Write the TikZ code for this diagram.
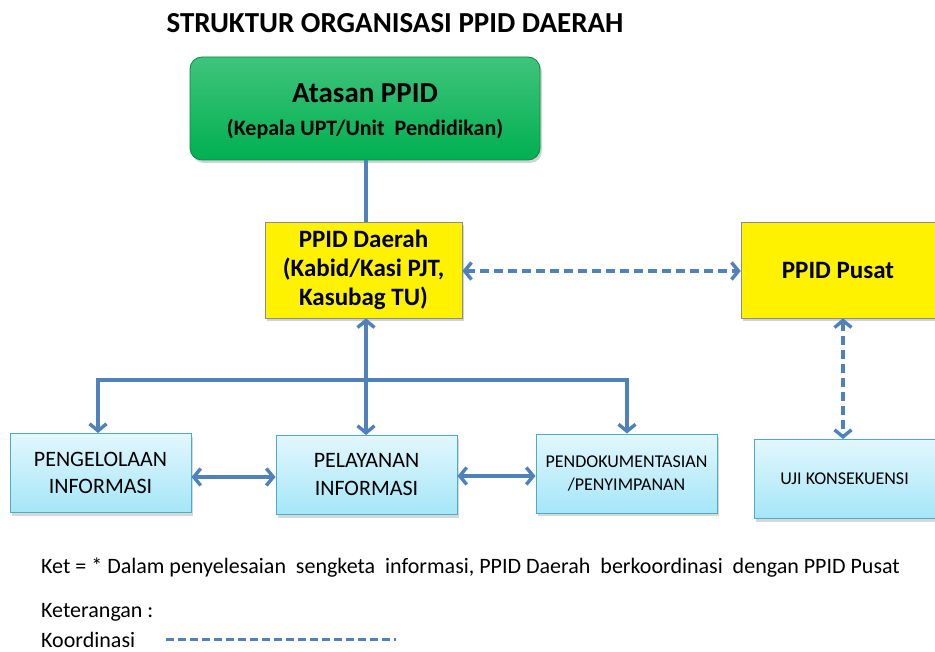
\documentclass[tikz,border=0pt]{standalone}
\usepackage{fontspec}
\setmainfont{Carlito}
\usetikzlibrary{arrows.meta,shadows}
\definecolor{lineblue}{HTML}{4F81BD}
\definecolor{boxgreen}{HTML}{00B050}
\definecolor{cyanedge}{HTML}{4BACC6}
\definecolor{cyantop}{HTML}{E2F7FD}
\definecolor{cyanbot}{HTML}{A5E6F8}
\tikzset{
  x=1pt,y=-1pt,
  greenbox/.style={draw=boxgreen!80!black,line width=0.8pt,rounded corners=12pt,top color=boxgreen!75!white,bottom color=boxgreen,
     drop shadow={shadow xshift=2pt,shadow yshift=-3pt,opacity=0.35},minimum width=350pt,minimum height=103pt,align=center,font=\bfseries},
  yellowbox/.style={draw=black!45,line width=0.6pt,fill=yellow,drop shadow={shadow xshift=2pt,shadow yshift=-3pt,opacity=0.35},
     minimum width=197pt,minimum height=96pt,align=center,font=\bfseries\fontsize{25}{29}\selectfont},
  cyanbox/.style={draw=cyanedge,line width=1pt,top color=cyantop,bottom color=cyanbot,drop shadow={shadow xshift=2pt,shadow yshift=-3pt,opacity=0.3},
     minimum width=181pt,minimum height=79pt,align=center},
  conn/.style={draw=lineblue,line width=3.6pt},
  tipboth/.style={conn,{Straight Barb[length=7pt,width=17pt,line width=3.4pt]}-{Straight Barb[length=7pt,width=17pt,line width=3.4pt]}},
  tipend/.style={conn,-{Straight Barb[length=7pt,width=17pt,line width=3.4pt]}},
  dashline/.style={dash pattern=on 9pt off 5pt},
  note/.style={anchor=base west,font=\fontsize{22}{26}\selectfont,inner sep=0pt},
}
\begin{document}
\begin{tikzpicture}
\useasboundingbox (0,0) rectangle (935,652);
\fill[white] (0,0) rectangle (935,652);

\node[font=\bfseries\fontsize{29}{33}\selectfont] (title) at (395,23) {STRUKTUR ORGANISASI PPID DAERAH};

\node[greenbox] (atasan) at (365,108.5) {};
\node[font=\bfseries\fontsize{29}{33}\selectfont] (atasanA) at (365,93) {Atasan PPID};
\node[font=\bfseries\fontsize{22}{26}\selectfont] (atasanB) at (365,129) {(Kepala UPT/Unit\ \ Pendidikan)};

\node[yellowbox] (daerah) at (363.5,270) {PPID Daerah\\(Kabid/Kasi PJT,\\Kasubag TU)};
\node[yellowbox,minimum width=194pt] (pusat) at (838,270) {PPID Pusat};

\node[cyanbox,font=\fontsize{22}{27}\selectfont] (kelola) at (100.5,473) {PENGELOLAAN\\INFORMASI};
\node[cyanbox,font=\fontsize{22}{28}\selectfont] (layan) at (366.5,475) {PELAYANAN\\INFORMASI};
\node[cyanbox,font=\fontsize{18}{23}\selectfont] (dok) at (626.5,473.5) {PENDOKUMENTASIAN\\/PENYIMPANAN};
\node[cyanbox,font=\fontsize{18}{20}\selectfont] (uji) at (844.5,479) {UJI KONSEKUENSI};

% connectors
\draw[conn] (atasan.south -| 366,0) -- (daerah.north -| 366,0);
\draw[tipboth] (daerah.south -| 366,0) -- (layan.north -| 366,0);
\coordinate (hl) at (98,380);
\coordinate (hr) at (627,380);
\draw[tipend] (366,380) -- (hl) -- (kelola.north -| hl);
\draw[tipend] (366,380) -- (hr) -- (dok.north -| hr);
\draw[tipboth] (kelola.east |- 0,477) -- (layan.west |- 0,477);
\draw[tipboth] (layan.east |- 0,476) -- (dok.west |- 0,476);
\draw[tipboth,dashline] (daerah.east |- 0,271) -- (pusat.west |- 0,271);
\draw[tipboth,dashline] (pusat.south -| 843,0) -- (uji.north -| 843,0);

% notes
\node[note] (ket) at (41,573) {Ket = * Dalam penyelesaian\ \ sengketa\ \ informasi, PPID Daerah\ \ berkoordinasi\ \ dengan PPID Pusat};
\node[note] (keter) at (41,617) {Keterangan :};
\node[note] (koord) at (41,647) {Koordinasi};
\coordinate (ks) at (166,639);
\coordinate (ke) at (396,639);
\draw[draw=lineblue,line width=3pt,dash pattern=on 8pt off 4pt] (ks) -- (ke);
\end{tikzpicture}
\end{document}
